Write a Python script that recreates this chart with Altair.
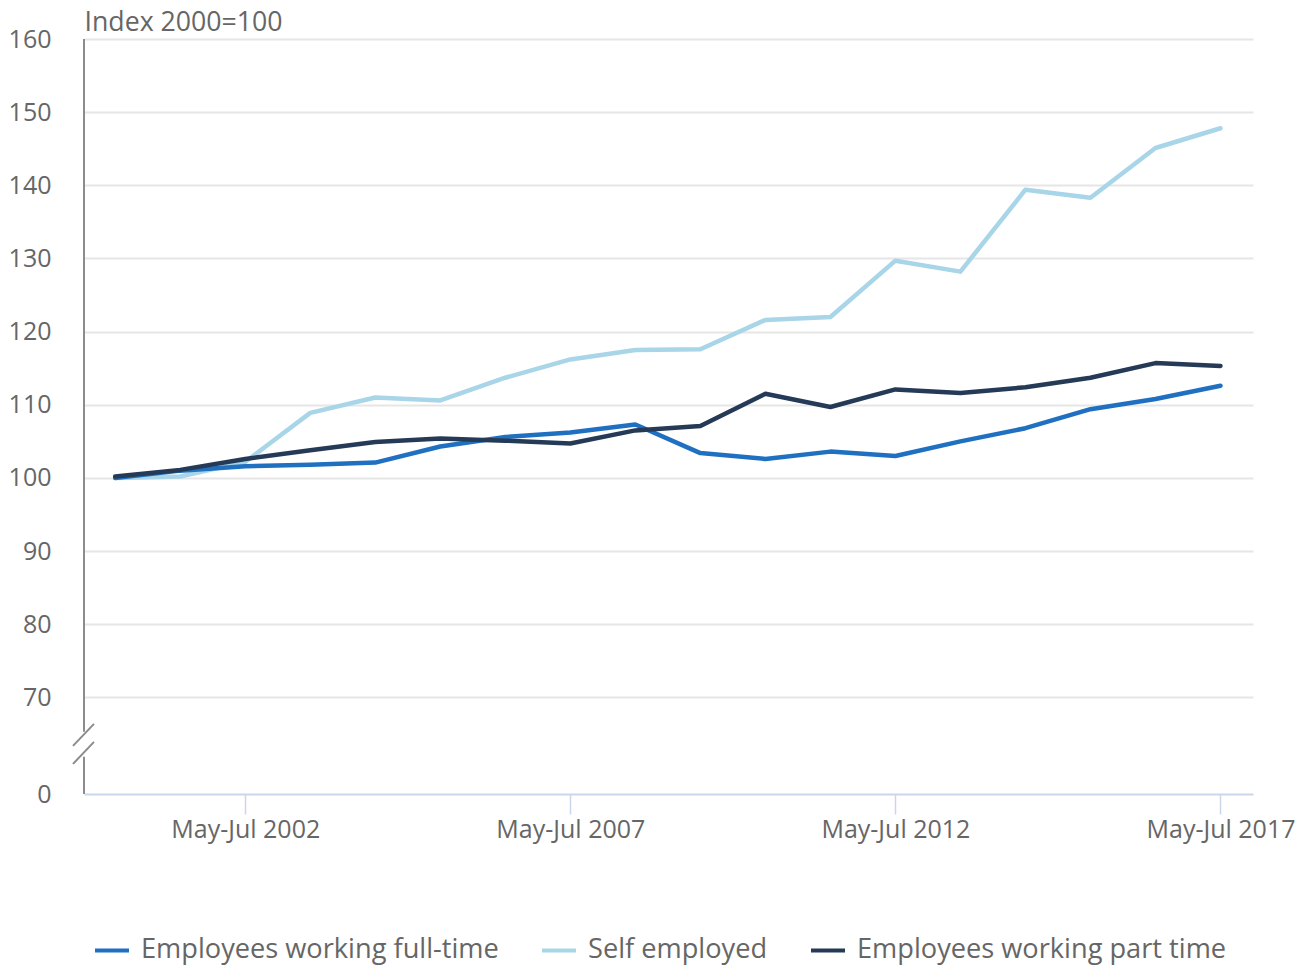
import altair as alt
import pandas as pd

years = list(range(2000, 2018))
full_time = [100.0, 101.0, 101.6, 101.8, 102.1, 104.3, 105.6, 106.2, 107.3, 103.4, 102.6, 103.6,
             103.0, 105.0, 106.8, 109.4, 110.8, 112.6]
self_employed = [100.0, 100.2, 102.2, 108.9, 111.0, 110.6, 113.7, 116.2, 117.5, 117.6, 121.6, 122.0,
                 129.7, 128.2, 139.4, 138.3, 145.1, 147.8]
part_time = [100.2, 101.1, 102.6, 103.8, 104.9, 105.4, 105.1, 104.7, 106.5, 107.1, 111.5, 109.7,
             112.1, 111.6, 112.4, 113.7, 115.7, 115.3]

series_names = ["Employees working full-time", "Self employed", "Employees working part time"]
series_colors = ["#1f70c1", "#a8d5e8", "#243a56"]
draw_order = ["Self employed", "Employees working full-time", "Employees working part time"]

x_ticks = [2002, 2007, 2012, 2017]
y_ticks = [56.8, 70, 80, 90, 100, 110, 120, 130, 140, 150, 160]

# broken y-axis decoration (in data units)
axis_seg_start = [65.3, 56.8]
axis_seg_end = [160, 61.9]
break_start = [63.37, 60.91]
break_end = [66.38, 63.92]

rows = []
for name, vals in zip(series_names, [full_time, self_employed, part_time]):
    for yr, v in zip(years, vals):
        rows.append({"year": yr, "value": v, "series": name})
df = pd.DataFrame(rows)

FONT = "Open Sans"
GREY = "#666666"

x_scale = alt.Scale(domain=[1999.52, 2017.5], nice=False, zero=False)
y_scale = alt.Scale(domain=[56.8, 160], nice=False, zero=False)
color_scale = alt.Scale(domain=series_names, range=series_colors)

x_axis = alt.Axis(values=x_ticks, labelExpr="'May-Jul ' + datum.value", grid=False,
                  domainColor="#ccd6eb", domainWidth=2, tickColor="#ccd6eb", tickSize=20,
                  tickWidth=1.5, labelPadding=3, labelFontSize=25, labelColor=GREY,
                  labelFont=FONT, title=None, labelFlush=False, labelOverlap=False)
y_axis = alt.Axis(values=y_ticks, labelExpr="datum.value < 60 ? '0' : datum.label",
                  domain=False, ticks=False, grid=True, gridColor="#e6e6e6", gridWidth=2,
                  gridOpacity=alt.condition("datum.value < 60", alt.value(0), alt.value(1)),
                  labelPadding=33, labelFontSize=25, labelColor=GREY, labelFont=FONT,
                  labelOverlap=False, labelFlush=False,
                  title="Index 2000=100", titleAngle=0, titleX=0, titleY=-9, titleAlign="left",
                  titleBaseline="alphabetic", titleFontSize=26.7, titleFontWeight="normal",
                  titleColor=GREY, titleFont=FONT)
legend = alt.Legend(orient="none", legendX=9, legendY=892, direction="horizontal", title=None,
                    symbolType="stroke", symbolStrokeWidth=4, symbolSize=1156,
                    labelFontSize=27.2, labelFont=FONT, labelColor=GREY, columnPadding=35,
                    labelOffset=10, labelLimit=600)

layers = []
for name in draw_order:
    layers.append(
        alt.Chart(df[df["series"] == name]).mark_line(strokeWidth=4.5, strokeCap="round", strokeJoin="round").encode(
            x=alt.X("year:Q", scale=x_scale, axis=x_axis),
            y=alt.Y("value:Q", scale=y_scale, axis=y_axis),
            color=alt.Color("series:N", scale=color_scale, legend=legend),
        )
    )

axis_df = pd.DataFrame({"a": axis_seg_start, "b": axis_seg_end})
axis_line = alt.Chart(axis_df).mark_rule(color="#8c8c8c", strokeWidth=2).encode(
    x=alt.value(0),
    y=alt.Y("a:Q", scale=y_scale, axis=y_axis),
    y2="b:Q",
)
break_df = pd.DataFrame({"a": break_start, "b": break_end})
breaks = alt.Chart(break_df).mark_rule(color="#8c8c8c", strokeWidth=2).encode(
    x=alt.value(-11), x2=alt.value(10),
    y=alt.Y("a:Q", scale=y_scale, axis=y_axis),
    y2="b:Q",
)

chart = alt.layer(*layers, axis_line, breaks).properties(
    width=1169, height=755,
    autosize=alt.AutoSizeParams(type="none"),
    padding={"left": 76, "top": 31, "right": 44, "bottom": 172},
    background="white",
).configure_view(stroke=None)

chart.save("out.html", embed_options={"renderer": "svg", "actions": False})
